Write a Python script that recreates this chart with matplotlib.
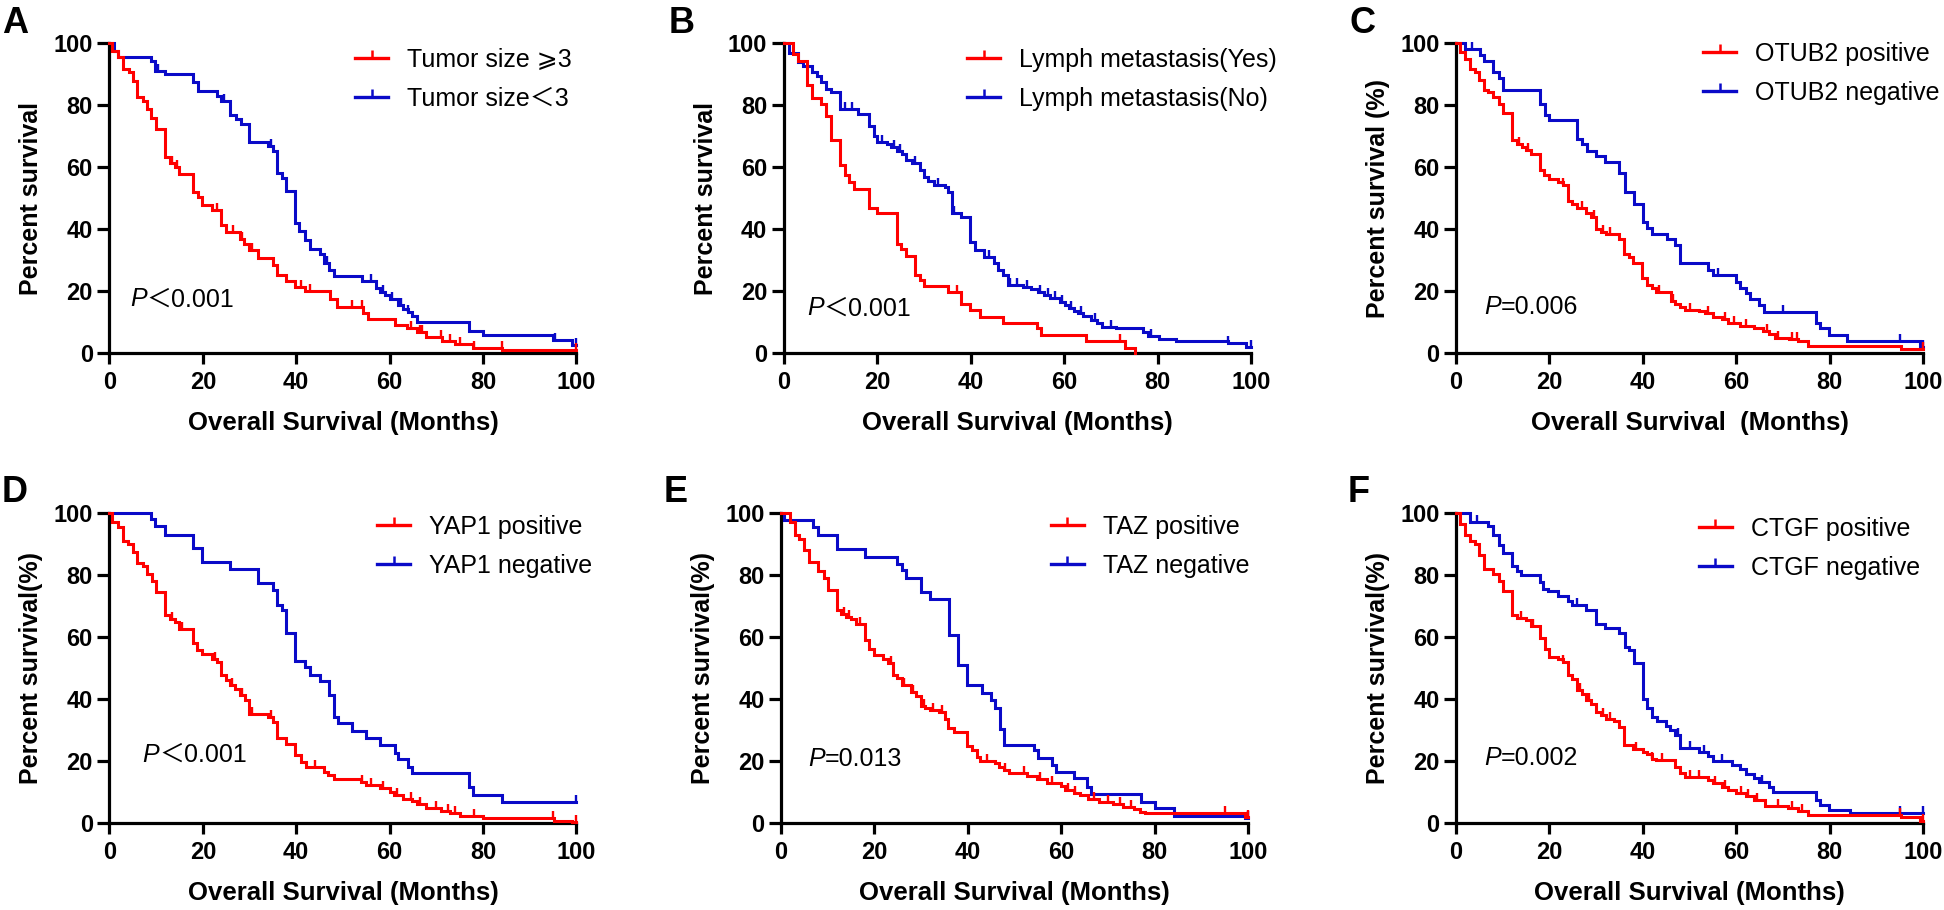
import numpy as np
import matplotlib
matplotlib.use("Agg")
import matplotlib.pyplot as plt
from matplotlib.lines import Line2D

plt.rcParams['font.family'] = ['Liberation Sans', 'DejaVu Sans', 'Noto Sans CJK SC']

RED = '#FF0000'
BLUE = '#0A0AC8'

x_ticks = [0, 20, 40, 60, 80, 100]
y_ticks = [0, 20, 40, 60, 80, 100]

# ---------------- Panel A : tumor size ----------------
a_red_t = [0.6, 1.8, 2.8, 4.1, 5.0, 6.0, 7.1, 8.1, 9.0, 10.0, 11.9, 13.0, 14.0, 15.0, 18.0, 19.0, 19.9, 21.9, 23.9,
           25.0, 27.9, 28.9, 29.9, 31.9, 35.0, 35.8, 37.9, 39.8, 41.9, 47.3, 48.7, 54.4, 55.3, 61.1, 63.7, 65.9,
           67.7, 71.2, 73.9, 77.9, 84.1]
a_red_s = [97.6, 95.5, 91.7, 90.7, 87.8, 82.6, 81.5, 78.9, 76.0, 72.4, 63.3, 61.5, 60.1, 57.7, 52.0, 50.4, 47.7, 46.1,
           41.3, 39.2, 37.0, 35.1, 33.3, 30.8, 28.4, 25.2, 23.3, 21.5, 20.1, 17.4, 15.0, 12.9, 10.9, 9.1, 8.0, 7.0,
           5.2, 4.1, 3.0, 1.8, 1.1]
a_red_c = [13.5, 14.5, 23, 26.5, 28.3, 30.5, 41, 43, 52, 54, 64.5, 66.5, 67, 71, 73, 75, 78, 84, 100]
a_blue_t = [0.9, 1.8, 8.8, 9.7, 11.9, 18.0, 19.0, 23.0, 23.9, 25.9, 27.0, 28.1, 29.9, 33.9, 35.0, 35.8, 37.0, 37.9,
            39.8, 40.7, 41.9, 42.9, 45.1, 46.0, 47.1, 48.1, 54.0, 57.1, 58.0, 59.1, 60.0, 61.9, 62.8, 63.9, 64.9,
            65.9, 77.0, 79.9, 95.0, 99.1]
a_blue_s = [97.6, 95.7, 94.2, 91.2, 90.1, 87.5, 84.5, 82.9, 81.5, 76.9, 75.4, 74.0, 68.1, 67.0, 65.2, 58.2, 56.5, 52.4,
            42.1, 39.4, 36.5, 33.7, 31.9, 29.0, 27.0, 24.9, 23.2, 21.2, 19.6, 18.7, 17.4, 15.5, 14.4, 13.3, 12.0,
            10.2, 7.2, 5.9, 4.3, 2.7]
a_blue_c = [10.5, 24.5, 34.5, 46.5, 56, 58.5, 60.5, 62.5, 64, 95.5, 100]
a_labels = ['Tumor size \u2a7e3', 'Tumor size\uff1c3']
a_p = ['P', '\uff1c0.001']

# ---------------- Panel B : lymph metastasis ----------------
b_red_t = [1.9, 3.1, 5.0, 6.0, 8.0, 9.0, 10.0, 11.9, 13.0, 14.0, 15.0, 18.1, 19.9, 24.1, 25.0, 26.1, 28.1, 29.2, 30.0,
           35.1, 38.0, 39.9, 42.0, 47.0, 54.1, 55.0, 64.7, 73.1, 75.1]
b_red_s = [96.6, 94.2, 86.4, 82.3, 80.3, 76.5, 68.7, 60.8, 57.4, 55.3, 53.1, 47.0, 45.4, 35.2, 33.5, 31.5, 25.4, 23.6,
           21.7, 19.6, 15.9, 13.9, 11.8, 9.9, 8.0, 5.8, 4.0, 1.8, 0.0]
b_red_c = [37, 72]
b_blue_t = [1.1, 3.1, 4.0, 6.0, 7.1, 8.0, 9.0, 10.0, 11.9, 15.9, 18.1, 19.2, 19.9, 22.1, 23.0, 24.3, 25.2, 26.1, 27.4,
            29.2, 30.0, 30.9, 32.1, 34.5, 35.1, 36.0, 38.0, 39.9, 40.9, 42.8, 44.9, 45.9, 47.0, 47.9, 51.2, 53.0,
            54.3, 55.7, 57.0, 59.0, 60.1, 61.0, 62.0, 62.9, 64.0, 65.8, 67.1, 68.0, 71.1, 76.9, 77.9, 80.4, 83.9,
            95.0, 98.9]
b_blue_s = [96.9, 93.9, 92.8, 90.7, 89.3, 87.4, 85.3, 84.2, 78.9, 77.3, 73.2, 70.1, 68.3, 67.4, 66.5, 65.2, 64.2, 62.4,
            61.4, 59.0, 56.9, 55.5, 54.4, 53.6, 52.0, 45.1, 44.0, 35.9, 33.3, 31.1, 29.0, 26.8, 25.2, 22.0, 21.5,
            20.6, 19.8, 18.8, 17.7, 16.6, 15.5, 14.5, 13.7, 12.9, 12.0, 10.7, 9.7, 8.6, 8.0, 6.8, 5.6, 4.5, 4.1,
            3.4, 2.1]
b_blue_c = [13, 14.5, 21, 23.5, 24.8, 28, 33, 36.5, 43.8, 48.5, 50, 52, 54.8, 56.5, 58, 59.5, 61.5, 63.5, 66.5, 70,
            78.5, 95, 100]
b_labels = ['Lymph metastasis(Yes)', 'Lymph metastasis(No)']
b_p = ['P', '\uff1c0.001']

# ---------------- Panel C : OTUB2 ----------------
c_red_t = [0.9, 2.0, 2.9, 4.0, 5.0, 6.0, 6.9, 8.0, 9.1, 10.0, 11.9, 13.1, 14.1, 15.0, 16.0, 17.9, 18.8, 20.0, 21.9,
           22.8, 23.9, 24.8, 25.9, 27.9, 28.8, 29.9, 31.0, 32.1, 34.9, 35.9, 37.0, 37.8, 39.9, 40.9, 42.0, 42.9,
           46.1, 46.9, 48.0, 49.1, 52.0, 53.3, 55.1, 56.9, 58.2, 60.8, 63.9, 65.7, 67.0, 68.3, 71.4, 73.2, 75.4,
           95.3]
c_red_s = [97.1, 95.0, 91.8, 90.7, 88.0, 85.0, 84.2, 82.6, 80.5, 77.5, 68.7, 67.6, 66.5, 65.5, 64.2, 59.0, 57.4, 56.3,
           55.3, 54.2, 49.1, 48.1, 47.0, 45.1, 44.0, 40.0, 39.2, 38.4, 36.7, 32.0, 31.1, 29.0, 24.2, 21.9, 21.0,
           19.6, 16.9, 15.9, 14.8, 14.1, 13.5, 13.0, 11.8, 10.9, 9.9, 8.9, 8.0, 7.2, 6.1, 5.0, 4.5, 3.8, 2.5, 1.4]
c_red_c = [13.5, 15.5, 23, 27, 29.5, 31.5, 33, 43.5, 46.5, 50, 54, 57.5, 59.5, 62, 66.5, 69, 72, 73, 100]
c_blue_t = [2.0, 5.1, 6.0, 8.0, 9.1, 10.0, 17.9, 19.1, 20.0, 25.9, 27.0, 28.1, 29.9, 31.9, 34.9, 36.1, 38.1, 40.1,
            40.9, 42.0, 45.1, 46.9, 48.0, 54.0, 55.1, 59.9, 60.8, 62.0, 62.9, 64.8, 65.9, 77.0, 77.9, 79.8, 83.8,
            99.3]
c_blue_s = [98.2, 96.3, 94.4, 90.8, 88.8, 85.0, 80.5, 76.8, 75.3, 69.2, 67.4, 65.2, 63.6, 61.7, 58.2, 52.0, 48.1,
            42.4, 40.3, 38.6, 36.7, 34.9, 29.0, 27.0, 25.2, 23.1, 21.0, 19.3, 17.5, 15.6, 13.4, 9.7, 8.0, 5.8, 4.0,
            2.1]
c_blue_c = [3.5, 56, 70, 95, 100]
c_labels = ['OTUB2 positive', 'OTUB2 negative']
c_p = ['P', '=0.006']

# ---------------- Panel D : YAP1 ----------------
d_red_t = [0.6, 1.8, 2.8, 4.0, 5.0, 6.0, 7.1, 8.1, 9.1, 10.0, 11.9, 13.0, 14.0, 15.0, 18.0, 18.8, 19.9, 21.9, 23.0,
           23.9, 25.0, 25.9, 26.8, 27.9, 29.0, 29.9, 33.9, 35.0, 35.8, 37.9, 39.8, 41.0, 42.0, 46.0, 46.9, 48.1,
           53.8, 54.9, 58.0, 60.0, 60.9, 62.8, 64.9, 65.9, 67.7, 71.1, 73.0, 75.0, 79.9, 95.1, 99.1]
d_red_s = [97.0, 95.4, 91.1, 90.0, 87.3, 83.9, 83.0, 80.4, 77.9, 74.5, 67.0, 65.9, 64.8, 62.7, 57.9, 55.7, 54.4, 53.0,
           51.9, 47.6, 46.0, 44.6, 43.3, 41.2, 39.6, 35.3, 34.2, 32.6, 27.3, 25.6, 21.9, 19.7, 18.1, 16.5, 15.5,
           14.2, 13.1, 12.2, 11.2, 10.1, 9.0, 7.9, 7.2, 6.1, 4.9, 3.9, 3.1, 2.3, 1.5, 0.8, 0.4]
d_red_c = [13.5, 15.5, 22.5, 26.3, 28.3, 30.5, 34.5, 44, 54, 56, 58.5, 61.5, 64.5, 66.5, 70, 72.5, 74, 78, 95, 100]
d_blue_t = [8.8, 9.7, 11.8, 18.0, 19.9, 25.9, 31.9, 35.0, 35.8, 37.0, 37.9, 39.8, 41.9, 42.9, 45.1, 47.1, 48.0, 48.9,
            52.0, 54.9, 58.0, 61.1, 61.9, 63.9, 64.9, 77.0, 77.9, 84.1]
d_blue_s = [98.1, 95.7, 93.0, 88.6, 84.1, 82.0, 77.4, 75.2, 70.2, 68.6, 61.4, 52.1, 50.3, 47.6, 45.7, 41.2, 34.2,
            32.1, 29.7, 27.3, 25.1, 22.6, 20.6, 18.1, 16.0, 11.5, 9.0, 6.9]
d_blue_c = [100]
d_labels = ['YAP1 positive', 'YAP1 negative']
d_p = ['P', '\uff1c0.001']

# ---------------- Panel E : TAZ ----------------
e_red_t = [1.8, 2.9, 3.8, 5.0, 6.0, 8.0, 9.1, 10.0, 11.9, 12.9, 14.0, 14.9, 16.0, 18.0, 18.8, 19.9, 21.9, 23.0, 23.9,
           24.9, 25.9, 27.9, 28.8, 29.9, 30.8, 31.9, 33.9, 35.0, 35.8, 37.0, 39.9, 40.8, 41.9, 42.7, 45.8, 46.7,
           47.8, 48.9, 52.7, 54.7, 56.9, 60.0, 60.9, 62.7, 64.0, 65.8, 68.0, 71.1, 73.3, 75.5, 76.8, 78.0, 99.4]
e_red_s = [97.0, 92.9, 91.6, 88.2, 84.3, 81.4, 79.0, 75.0, 68.7, 67.5, 66.6, 65.9, 64.3, 58.9, 56.2, 54.1, 52.8, 51.7,
           47.6, 46.8, 44.4, 42.1, 41.0, 37.8, 37.2, 36.4, 35.8, 33.7, 30.5, 29.4, 24.8, 23.5, 21.4, 20.0, 19.2,
           18.1, 17.1, 16.2, 15.1, 14.1, 13.0, 12.0, 10.8, 9.8, 9.0, 7.9, 6.9, 6.1, 5.3, 4.5, 3.6, 3.1, 2.0]
e_red_c = [13.5, 14.5, 17, 23.5, 26.3, 28.3, 30.5, 32.5, 34.5, 44, 48, 52, 55.5, 58, 61.5, 63, 67, 70, 72.5, 75, 95,
           100]
e_blue_t = [0.7, 6.9, 7.8, 11.9, 18.0, 24.9, 25.9, 26.8, 29.9, 31.9, 35.9, 37.9, 39.9, 43.0, 45.0, 45.8, 46.9, 47.8,
            54.1, 55.0, 58.0, 58.8, 62.7, 65.5, 66.4, 77.1, 80.1, 84.1, 99.4]
e_blue_s = [97.8, 95.6, 93.0, 88.4, 85.9, 83.6, 81.7, 79.0, 74.5, 72.1, 60.5, 51.1, 44.4, 42.0, 39.6, 37.2, 30.3,
            25.3, 23.5, 21.0, 18.7, 16.5, 14.4, 11.7, 9.5, 6.9, 4.7, 2.4, 1.7]
e_blue_c = [100]
e_labels = ['TAZ positive', 'TAZ negative']
e_p = ['P', '=0.013']

# ---------------- Panel F : CTGF ----------------
f_red_t = [0.9, 2.0, 2.9, 4.0, 5.0, 6.0, 8.0, 9.1, 10.0, 11.9, 13.1, 15.0, 16.0, 17.9, 19.1, 20.0, 21.9, 22.8, 23.9,
           24.8, 25.9, 27.0, 27.9, 29.0, 29.9, 31.0, 32.1, 33.9, 34.9, 35.9, 37.8, 40.1, 40.9, 42.0, 42.9, 46.9,
           48.0, 49.1, 54.0, 55.1, 56.9, 58.2, 59.9, 62.2, 63.9, 66.1, 71.0, 73.2, 75.4, 95.3, 99.3]
f_red_s = [96.5, 93.0, 91.1, 90.0, 86.5, 82.0, 80.4, 77.9, 74.7, 67.0, 66.2, 65.4, 63.5, 59.7, 56.2, 53.5, 53.0, 51.9,
           47.6, 46.6, 42.8, 41.7, 39.6, 38.5, 35.8, 34.8, 33.7, 32.8, 31.0, 25.3, 24.0, 23.0, 22.1, 20.8, 20.3,
           18.1, 16.2, 14.9, 13.8, 12.8, 11.7, 10.6, 9.8, 8.8, 7.4, 5.6, 4.7, 3.9, 2.6, 1.8, 0.6]
f_red_c = [14, 16.5, 23, 26.5, 28.5, 31.5, 33, 38.5, 42, 44, 50, 52, 55.5, 57.5, 61, 62.5, 64.5, 69, 72, 74, 95, 100]
f_blue_t = [2.9, 6.9, 8.0, 9.1, 10.0, 11.9, 13.1, 14.0, 17.9, 18.7, 19.7, 21.9, 23.9, 24.8, 27.9, 29.9, 31.9, 34.9,
            36.1, 37.0, 38.1, 40.1, 40.9, 42.0, 43.0, 44.9, 45.8, 46.9, 48.0, 52.0, 54.0, 55.1, 59.1, 60.8, 62.0,
            63.9, 64.8, 67.0, 67.9, 77.0, 77.9, 79.8, 84.3]
f_blue_s = [97.0, 95.9, 92.9, 89.7, 87.1, 83.0, 81.4, 80.0, 77.7, 75.5, 74.7, 73.2, 71.6, 70.2, 68.6, 64.3, 63.0,
            61.3, 56.8, 55.7, 51.7, 40.1, 37.1, 34.2, 32.9, 31.3, 29.9, 28.5, 24.3, 23.0, 21.6, 20.0, 18.7, 17.4,
            15.7, 14.4, 13.3, 11.7, 10.1, 7.4, 5.8, 4.1, 3.1]
f_blue_c = [4.5, 26, 47.5, 50, 53, 57, 65.5, 95, 100]
f_labels = ['CTGF positive', 'CTGF negative']
f_p = ['P', '=0.002']

ylabels = ['Percent survival', 'Percent survival', 'Percent survival (%)',
           'Percent survival(%)', 'Percent survival(%)', 'Percent survival(%)']
xlabels = ['Overall Survival (Months)', 'Overall Survival (Months)', 'Overall Survival  (Months)',
           'Overall Survival (Months)', 'Overall Survival (Months)', 'Overall Survival (Months)']
letters = ['A', 'B', 'C', 'D', 'E', 'F']

# ---------------- layout (figure fractions) ----------------
W, H = 0.2402, 0.3407
axes_rects = [
    [0.0563, 0.6118, W, H], [0.4033, 0.6118, W, H], [0.7490, 0.6118, W, H],
    [0.0563, 0.0956, W, H], [0.4018, 0.0956, W, H], [0.7490, 0.0956, W, H],
]
letter_pos = [(0.001, 0.9637), (0.344, 0.9637), (0.6944, 0.9637),
              (0.001, 0.4484), (0.3416, 0.4484), (0.6934, 0.4484)]
legend_anchor = [(0.526, 0.985), (0.392, 0.985), (0.529, 1.005),
                 (0.573, 0.993), (0.578, 0.993), (0.520, 0.987)]
p_pos = [(0.044, 0.174), (0.049, 0.145), (0.060, 0.148),
         (0.071, 0.219), (0.058, 0.206), (0.060, 0.209)]

data = [
    (a_red_t, a_red_s, a_red_c, a_blue_t, a_blue_s, a_blue_c, a_labels, a_p),
    (b_red_t, b_red_s, b_red_c, b_blue_t, b_blue_s, b_blue_c, b_labels, b_p),
    (c_red_t, c_red_s, c_red_c, c_blue_t, c_blue_s, c_blue_c, c_labels, c_p),
    (d_red_t, d_red_s, d_red_c, d_blue_t, d_blue_s, d_blue_c, d_labels, d_p),
    (e_red_t, e_red_s, e_red_c, e_blue_t, e_blue_s, e_blue_c, e_labels, e_p),
    (f_red_t, f_red_s, f_red_c, f_blue_t, f_blue_s, f_blue_c, f_labels, f_p),
]

LW = 2.2


def km_curve(ax, t, s, cens, color, z):
    end = max(100.0, t[-1]) if s[-1] > 0 else t[-1]
    x = np.concatenate([[0.0], t, [end]])
    y = np.concatenate([[100.0], s, [s[-1]]])
    ax.step(x, y, where='post', color=color, lw=LW, clip_on=False, zorder=z,
            solid_joinstyle='miter')
    c = np.asarray(cens, dtype=float)
    idx = np.clip(np.searchsorted(x, c, side='right') - 1, 0, len(y) - 1)
    ax.plot(c, y[idx], ls='none', marker=2, ms=5, mew=1.7, color=color,
            clip_on=False, zorder=z)


fig = plt.figure(figsize=(19.44, 9.10), dpi=100)

for i, (rt, rs, rc, bt, bs, bc, labels, ptxt) in enumerate(data):
    ax = fig.add_axes(axes_rects[i])
    km_curve(ax, bt, bs, bc, BLUE, 3)
    km_curve(ax, rt, rs, rc, RED, 4)
    ax.set_xlim(0, 100)
    ax.set_ylim(0, 100)
    ax.set_xticks(x_ticks)
    ax.set_yticks(y_ticks)
    ax.set_xticklabels([str(v) for v in x_ticks], fontsize=17, fontweight='bold')
    ax.set_yticklabels([str(v) for v in y_ticks], fontsize=17, fontweight='bold')
    for sp in ['top', 'right']:
        ax.spines[sp].set_visible(False)
    for sp in ['left', 'bottom']:
        ax.spines[sp].set_linewidth(2.3)
    ax.tick_params(axis='x', length=8, width=2.3, pad=5)
    ax.tick_params(axis='y', length=9, width=2.3, pad=3)
    ax.set_xlabel(xlabels[i], fontsize=18.5, fontweight='bold', va='center')
    ax.xaxis.set_label_coords(0.5, -0.226)
    ax.set_ylabel(ylabels[i], fontsize=18, fontweight='bold', va='center')
    ax.yaxis.set_label_coords(-0.167, 0.5)

    handles = [Line2D([], [], color=RED, lw=2.4, marker=2, ms=5.5, mew=1.8),
               Line2D([], [], color=BLUE, lw=2.4, marker=2, ms=5.5, mew=1.8)]
    ax.legend(handles, labels, loc='upper left', bbox_to_anchor=legend_anchor[i],
              frameon=False, borderpad=0, borderaxespad=0, handlelength=1.32,
              handletextpad=0.75, labelspacing=0.6, fontsize=18)

    t1 = ax.text(p_pos[i][0], p_pos[i][1], ptxt[0], transform=ax.transAxes, fontsize=18,
                 style='italic', va='center', ha='left')
    ax.annotate(ptxt[1], xy=(1, 0.5), xycoords=t1, va='center', ha='left', fontsize=18)

    fig.text(letter_pos[i][0], letter_pos[i][1], letters[i], fontsize=26, fontweight='bold',
             ha='left', va='baseline')

fig.savefig('out.png', dpi=100)
